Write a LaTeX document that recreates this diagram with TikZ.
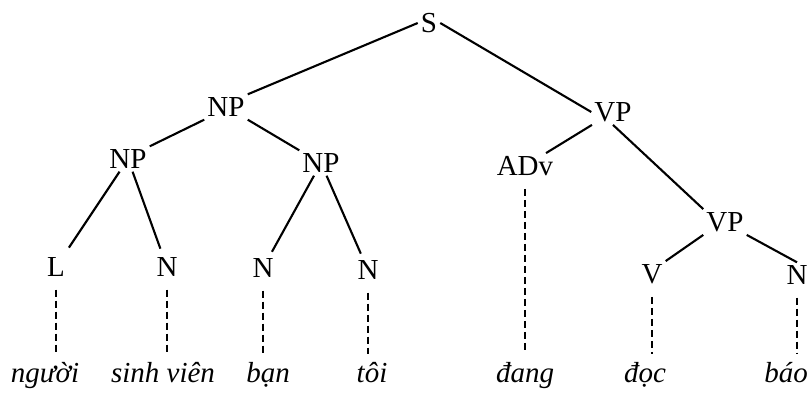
\documentclass[tikz,border=0pt]{standalone}
\usepackage{fontspec}
\setmainfont{Liberation Serif}

\begin{document}
\begin{tikzpicture}[x=1pt, y=-1pt,
        cat/.style={inner sep=3pt, font=\fontsize{29}{32}\selectfont},
        word/.style={anchor=base, inner sep=2pt, font=\fontsize{29}{32}\selectfont\itshape},
        branch/.style={line width=2.1pt},
        leaf/.style={line width=2.8pt, dash pattern=on 7pt off 4pt, shorten <=10pt, shorten >=6pt}]
        \useasboundingbox (0,0) rectangle (807,396);

        % categories
        \node[cat] (s) at (429,23) {S};
        \node[cat] (np) at (226,107) {NP};
        \node[cat] (vp) at (613,112) {VP};
        \node[cat] (npa) at (128,159) {NP};
        \node[cat] (npb) at (321,163) {NP};
        \node[cat] (adv) at (525,166) {ADv};
        \node[cat] (vpb) at (725,222) {VP};
        \node[cat] (l) at (56,267) {L};
        \node[cat] (n1) at (167,267) {N};
        \node[cat] (n2) at (263,268) {N};
        \node[cat] (n3) at (368,270) {N};
        \node[cat] (v) at (652,274) {V};
        \node[cat] (n4) at (797,275) {N};

        % words
        \node[word] (w1) at (45,382) {người};
        \node[word] (w2) at (163,382) {sinh viên};
        \node[word] (w3) at (268,382) {bạn};
        \node[word] (w4) at (372,382) {tôi};
        \node[word] (w5) at (525,382) {đang};
        \node[word] (w6) at (645,382) {đọc};
        \node[word] (w7) at (786,382) {báo};

        \draw[branch] (s.west) -- (np.north east);
        \draw[branch] (s.east) -- (vp.west);
        \draw[branch] (np.south west) -- (npa.north east);
        \draw[branch] (np.south east) -- (npb.north west);
        \draw[branch, shorten >=8pt] (npa) -- (l);
        \draw[branch, shorten >=6pt] (npa) -- (n1);
        \draw[branch, shorten >=4pt] (npb) -- (n2);
        \draw[branch, shorten >=4pt] (npb) -- (n3);
        \draw[branch] (vp) -- (adv);
        \draw[branch] (vp.south) -- (vpb.north west);
        \draw[branch] (vpb.south west) -- (v.north east);
        \draw[branch] (vpb.south east) -- (n4.north);

        \draw[leaf] (l.south) -- (l.south |- w1.north);
        \draw[leaf] (n1.south) -- (n1.south |- w2.north);
        \draw[leaf] (n2.south) -- (n2.south |- w3.north);
        \draw[leaf] (n3.south) -- (n3.south |- w4.north);
        \draw[leaf] (adv.south) -- (adv.south |- w5.north);
        \draw[leaf] (v.south) -- (v.south |- w6.north);
        \draw[leaf] (n4.south) -- (n4.south |- w7.north);
    \end{tikzpicture}
\end{document}
